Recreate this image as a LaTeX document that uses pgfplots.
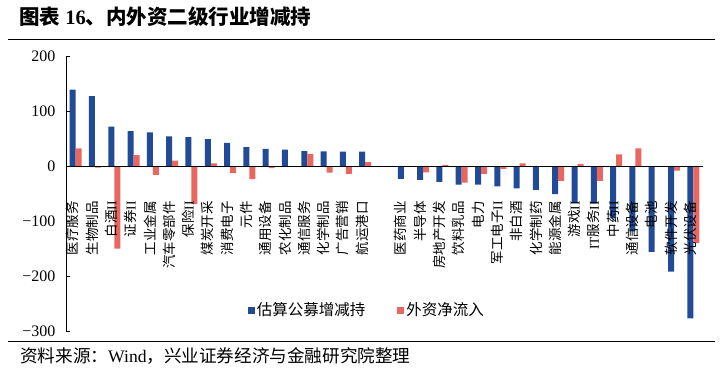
\documentclass[border=0pt]{standalone}
\usepackage{pgfplots}
\usepackage{pgfplotstable}
\pgfplotsset{compat=1.18}
\usepackage{fontspec}
\setmainfont{Liberation Serif}
\newfontfamily\cjk{Noto Sans CJK SC}
\definecolor{cblue}{RGB}{33,75,150}
\definecolor{cred}{RGB}{230,104,96}

\pgfplotstableread{
i  gm      wz
0  139     32
1  127     -3
2  71.5    -150
3  63.6    20
4  61      -16
5  54      10
6  52.7    -69
7  49      5
8  42      -13
9  34.5    -24
10 31      -4
11 30      -1
12 27      22
13 26.6    -12
14 26      -14.5
15 26      7
17 -23.6   -1
18 -25     -11.5
19 -29     1.5
20 -34     -30
21 -34     -14.5
22 -37     -5
23 -40.6   5
24 -43.6   0
25 -51     -27
26 -66     4
27 -68     -27
28 -95     21
29 -119    32
30 -156    0
31 -192    -8.5
32 -277    -140
}\datatable

\begin{document}
\begin{tikzpicture}
\path[use as bounding box] (0pt,0pt) rectangle (721pt,-376pt);
\node[anchor=base west, inner sep=0, font=\fontsize{20.5}{20.5}\selectfont] at (19pt,-24.5pt)
  {{\cjk\bfseries 图表} {\bfseries 16}{\cjk\bfseries 、内外资二级行业增减持}};
\draw[line width=1.1pt] (8pt,-39.5pt) -- (715pt,-39.5pt);
\draw[line width=1.1pt] (8pt,-341.5pt) -- (715pt,-341.5pt);
\node[anchor=base west, inner sep=0, font=\fontsize{17.6}{17.6}\selectfont] at (20pt,-362pt)
  {{\cjk 资料来源：}Wind{\cjk ，兴业证券经济与金融研究院整理}};
\begin{axis}[
  at={(75.65pt,-166pt)}, anchor=origin,
  scale only axis, width=637pt, height=275pt,
  ybar=0pt, bar width=6pt,
  xmin=-0.5, xmax=32.5, ymin=-300, ymax=200,
  axis x line=middle, axis y line=left,
  axis line style={-, line width=0.8pt, black},
  axis on top,
  ytick={-300,-200,-100,0,100,200},
  yticklabels={−300,−200,−100,0,100,200},
  yticklabel style={font=\fontsize{16}{16}\selectfont, xshift=-7pt},
  xtick={0,...,32},
  xticklabels={医疗服务,生物制品,白酒{\rmfamily II},证券{\rmfamily II},工业金属,汽车零部件,保险{\rmfamily II},煤炭开采,消费电子,元件,通用设备,农化制品,通信服务,化学制品,广告营销,航运港口,{},医药商业,半导体,房地产开发,饮料乳品,电力,军工电子{\rmfamily II},非白酒,化学制药,能源金属,游戏{\rmfamily II},{\rmfamily IT}服务{\rmfamily II},中药{\rmfamily II},通信设备,电池,软件开发,光伏设备},
  xticklabel style={rotate=90, anchor=east, inner sep=0pt, yshift=3pt, font=\cjk\fontsize{13.5}{13.5}\selectfont},
  xticklabel shift=35pt,
  major x tick style={draw=none},
  tick align=inside, major tick length=4pt,
  major y tick style={line width=0.8pt, black},
  legend style={at={(0.4725,0.076)}, anchor=center, draw=none, fill=none,
    legend columns=2, font=\cjk\fontsize{15.5}{15.5}\selectfont,
    /tikz/every even column/.append style={column sep=30pt}},
  legend cell align=left,
  clip=false,
]
\addplot[fill=cblue, draw=none,
  legend image code/.code={\fill[cblue] (0pt,-3.5pt) rectangle (7pt,3.5pt);}]
  table[x=i, y=gm] {\datatable};
\addlegendentry{估算公募增减持}
\addplot[fill=cred, draw=none,
  legend image code/.code={\fill[cred] (0pt,-3.5pt) rectangle (7pt,3.5pt);}]
  table[x=i, y=wz] {\datatable};
\addlegendentry{外资净流入}
\end{axis}
\end{tikzpicture}
\end{document}
